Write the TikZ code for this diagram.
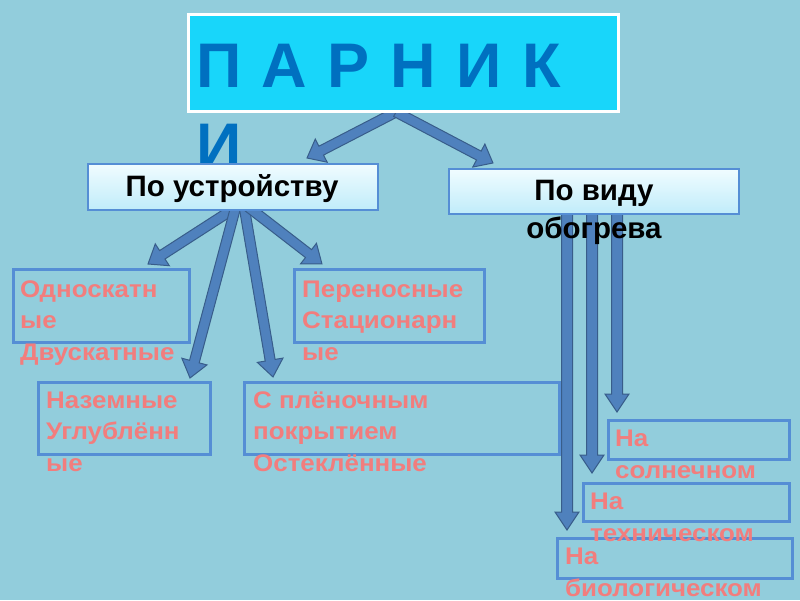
\documentclass[tikz,border=0pt]{standalone}
\usepackage{fontspec}
\usepackage{graphicx}
\setmainfont{Liberation Sans}
\newfontfamily\redfont[FakeStretch=1.08]{Liberation Sans}
\usetikzlibrary{calc}
\definecolor{bg}{RGB}{146,205,220}
\definecolor{titlefill}{RGB}{24,214,250}
\definecolor{titleblue}{RGB}{0,112,192}
\definecolor{arrfill}{RGB}{79,129,189}
\definecolor{arrline}{RGB}{56,93,138}
\definecolor{boxline}{RGB}{85,142,213}
\definecolor{redtxt}{RGB}{242,125,125}
\definecolor{hdtop}{RGB}{240,252,255}
\definecolor{hdbot}{RGB}{192,236,250}
\tikzset{
  barrow/.style={fill=arrfill, draw=arrline, line width=1pt, line join=miter},
  hdbox/.style={rectangle, draw=boxline, line width=2pt, top color=hdtop, bottom color=hdbot, inner sep=0pt, anchor=north west},
  redbox/.style={rectangle, draw=boxline, line width=2.5pt, inner sep=0pt, anchor=north west},
  redtext/.style={anchor=base west, inner sep=0pt, align=left, text=redtxt, font=\redfont\fontsize{24}{31.5}\selectfont\bfseries},
  hdtext/.style={inner sep=0pt, align=center, text=black, font=\fontsize{29.5}{38}\selectfont\bfseries},
  titletext/.style={anchor=base west, inner sep=0pt, text=titleblue, font=\fontsize{63}{80}\selectfont\bfseries}
}
\newcommand{\blockarrow}[5]{%
  \path let \p1=($(#2)-(#1)$), \n1={veclen(\x1,\y1)}, \n2={atan2(\y1,\x1)} in \pgfextra{\xdef\barlen{\n1}\xdef\barang{\n2}};
  \begin{scope}[shift={(#1)}, rotate=\barang]
    \draw[barrow] (0pt,-#3) -- ({\barlen-#5},-#3) -- ({\barlen-#5},-#4) -- ({\barlen+0pt},0pt) -- ({\barlen-#5},#4) -- ({\barlen-#5},#3) -- (0pt,#3) -- cycle;
  \end{scope}}
\newcommand{\tsp}{\ \kern3pt}
\begin{document}
\begin{tikzpicture}[x=1pt,y=-1pt]
\fill[bg] (0,0) rectangle (800,600);
\useasboundingbox (0,0) rectangle (800,600);

% arrow coordinates
\coordinate (ta) at (396,112);
\coordinate (tl) at (307,158);
\coordinate (tr) at (493,163);
\coordinate (s1) at (238,206);
\coordinate (s2) at (236,206);
\coordinate (s3) at (244,206);
\coordinate (s4) at (247,206);
\coordinate (e1) at (148,264);
\coordinate (e2) at (190,378);
\coordinate (e3) at (273,377);
\coordinate (e4) at (322,264);
\coordinate (v1s) at (567,210);
\coordinate (v2s) at (592,210);
\coordinate (v3s) at (617,210);
\coordinate (v1e) at (567,530);
\coordinate (v2e) at (592,473);
\coordinate (v3e) at (617,412);

\blockarrow{ta}{tl}{5pt}{13pt}{16pt}
\blockarrow{ta}{tr}{5pt}{13pt}{16pt}

% title
\node[rectangle, fill=titlefill, draw=white, line width=3pt, minimum width=430pt, minimum height=97pt, anchor=north west, inner sep=0pt] (title) at (187,13) {};
\node[titletext] (tt1) at (196,87) {П\tsp А\tsp Р\tsp Н\tsp И\tsp К};
\node[titletext] (tt2) at (196,167) {И};

\blockarrow{s1}{e1}{5pt}{13pt}{17pt}
\blockarrow{s2}{e2}{5pt}{13pt}{17pt}
\blockarrow{s3}{e3}{5pt}{13pt}{17pt}
\blockarrow{s4}{e4}{5pt}{13pt}{17pt}
\blockarrow{v1s}{v1e}{5.5pt}{12pt}{18pt}
\blockarrow{v2s}{v2e}{5.5pt}{12pt}{18pt}
\blockarrow{v3s}{v3e}{5.5pt}{12pt}{18pt}

% header boxes
\node[hdbox, minimum width=290pt, minimum height=46pt] (dev) at (87,163) {};
\node[hdtext, anchor=base] (devt) at (232,196) {По устройству};
\node[hdbox, minimum width=290pt, minimum height=45pt] (heat) at (448,168) {};
\node[hdtext, anchor=base] (heatt1) at (594,200) {По виду};
\node[hdtext, anchor=base] (heatt2) at (594,238) {обогрева};

% red boxes
\node[redbox, minimum width=176pt, minimum height=73pt] (b1) at (12,268) {};
\node[redbox, minimum width=190pt, minimum height=73pt] (b2) at (293,268) {};
\node[redbox, minimum width=172pt, minimum height=72pt] (b3) at (37,381) {};
\node[redbox, minimum width=315pt, minimum height=72pt] (b4) at (243,381) {};
\node[redbox, minimum width=181pt, minimum height=39pt] (b5) at (607,419) {};
\node[redbox, minimum width=206pt, minimum height=38pt] (b6) at (582,482) {};
\node[redbox, minimum width=235pt, minimum height=40pt] (b7) at (556,537) {};

% (anchor base = baseline of the last line)
\node[redtext] (t1) at (20,360) {Односкатн\\ые\\Двускатные};
\node[redtext] (t2) at (302,360) {Переносные\\Стационарн\\ые};
\node[redtext] (t3) at (46,471) {Наземные\\Углублённ\\ые};
\node[redtext] (t4) at (253,471) {С плёночным\\покрытием\\Остеклённые};
\node[redtext] (t5) at (615,478) {На\\солнечном};
\node[redtext] (t6) at (590,541) {На\\техническом};
\node[redtext] (t7) at (565,596) {На\\биологическом};
\end{tikzpicture}
\end{document}
